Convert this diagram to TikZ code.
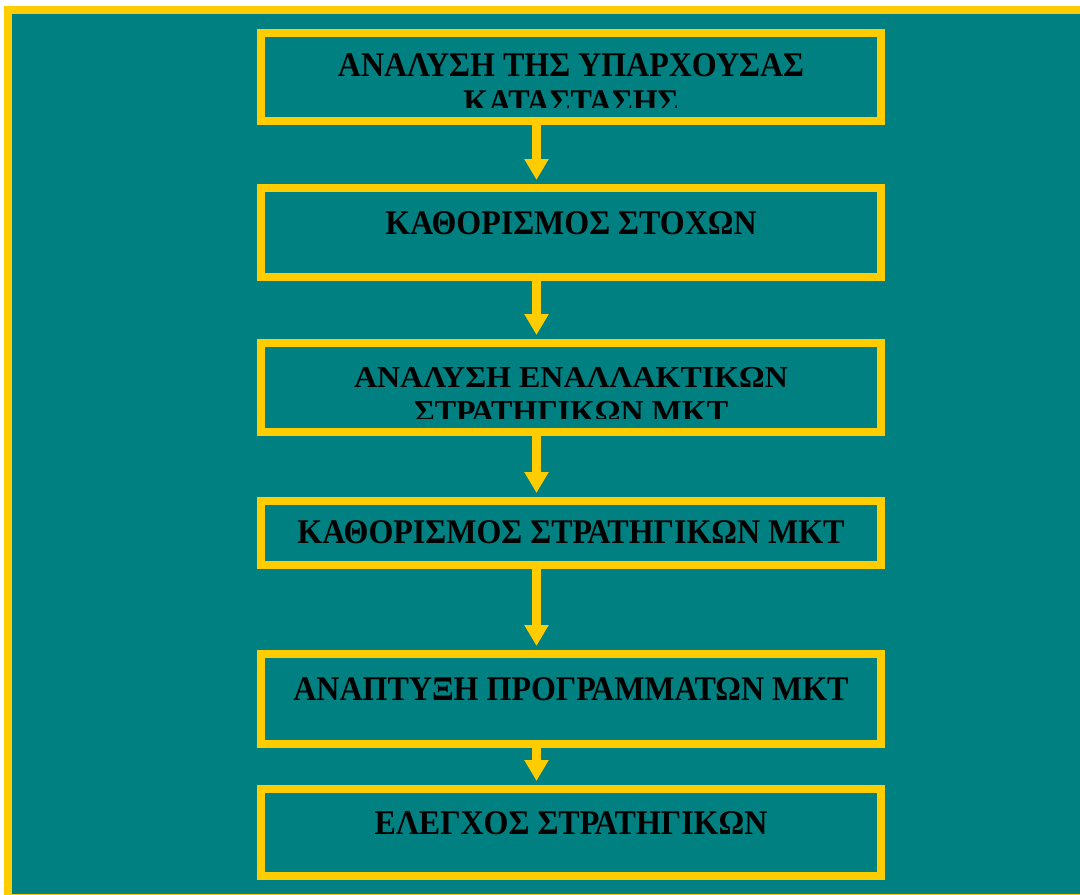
\documentclass[tikz,border=0pt]{standalone}
\usepackage{fontspec}
\usepackage{graphicx}
\setmainfont{Liberation Serif}
\usetikzlibrary{arrows.meta}
\definecolor{tealbg}{HTML}{008080}
\definecolor{gold}{HTML}{FFCC00}
\newcommand{\vstretch}[2]{\scalebox{1}[#1]{#2}}
\begin{document}
\begin{tikzpicture}[x=1pt,y=-1pt,
  box/.style={draw=gold, line width=8pt, rectangle, inner sep=0pt, minimum width=620pt},
  lbl/.style={anchor=base, inner sep=0pt, font=\bfseries\fontsize{32}{34}\selectfont, text=black},
  arr/.style={draw=gold, line width=9pt, -{Triangle[width=23pt,length=21pt]}, shorten >=4pt}]
\useasboundingbox (0,0) rectangle (1080,895);
\fill[white] (0,0) rectangle (1080,895);
\begin{scope}
  \clip (0,0) rectangle (1080,895);
  \draw[gold, line width=8pt, fill=tealbg] (8,10) rectangle (1084,898);
\end{scope}
% boxes
\node[box, minimum height=88pt] (b1) at (571,77) {};
\node[box, minimum height=88.5pt] (b2) at (571,232.25) {};
\node[box, minimum height=89pt] (b3) at (571,387.5) {};
\node[box, minimum height=64pt] (b4) at (571,533) {};
\node[box, minimum height=90pt] (b5) at (571,699) {};
\node[box, minimum height=87pt] (b6) at (571,832.5) {};
% labels
\node[lbl] (t1a) at (571,76) {\vstretch{1.08}{ΑΝΑΛΥΣΗ ΤΗΣ ΥΠΑΡΧΟΥΣΑΣ}};
\begin{scope}
  \clip (261,33) rectangle (881,107);
  \node[lbl] (t1b) at (571,113) {\vstretch{1.08}{ΚΑΤΑΣΤΑΣΗΣ}};
\end{scope}
\node[lbl] (t2) at (571,234) {\vstretch{1.08}{ΚΑΘΟΡΙΣΜΟΣ ΣΤΟΧΩΝ}};
\node[lbl] (t3a) at (571,387) {\vstretch{0.95}{ΑΝΑΛΥΣΗ ΕΝΑΛΛΑΚΤΙΚΩΝ}};
\begin{scope}
  \clip (261,343) rectangle (881,418);
  \node[lbl] (t3b) at (571,422) {\vstretch{1.0}{ΣΤΡΑΤΗΓΙΚΩΝ ΜΚΤ}};
\end{scope}
\node[lbl] (t4) at (571,543) {\vstretch{1.08}{ΚΑΘΟΡΙΣΜΟΣ ΣΤΡΑΤΗΓΙΚΩΝ ΜΚΤ}};
\node[lbl] (t5) at (571,700) {\vstretch{1.08}{ΑΝΑΠΤΥΞΗ ΠΡΟΓΡΑΜΜΑΤΩΝ ΜΚΤ}};
\node[lbl] (t6) at (571,834) {\vstretch{1.08}{ΕΛΕΓΧΟΣ ΣΤΡΑΤΗΓΙΚΩΝ}};
% arrows
\coordinate (ax) at (536.5,0);
\draw[arr] (b1.south -| ax) -- (b2.north -| ax);
\draw[arr] (b2.south -| ax) -- (b3.north -| ax);
\draw[arr] (b3.south -| ax) -- (b4.north -| ax);
\draw[arr] (b4.south -| ax) -- (b5.north -| ax);
\draw[arr] (b5.south -| ax) -- (b6.north -| ax);
\end{tikzpicture}
\end{document}
